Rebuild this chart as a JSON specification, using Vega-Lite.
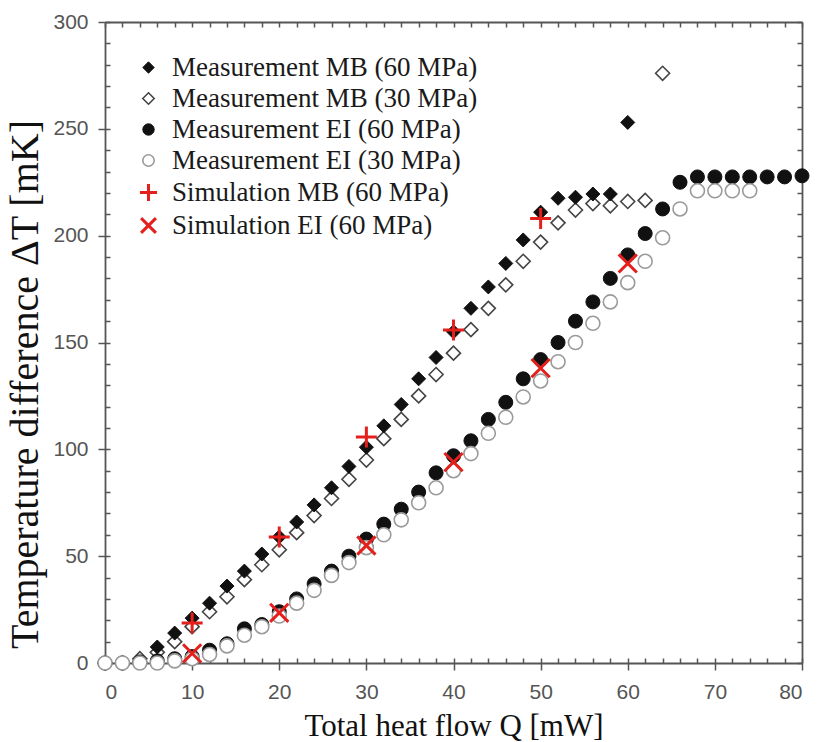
{
  "$schema": "https://vega.github.io/schema/vega-lite/v6.json",
  "width": 697,
  "height": 641,
  "autosize": {"type": "none"},
  "padding": {"left": 105, "top": 22, "right": 15, "bottom": 79},
  "background": "white",
  "config": {
    "view": {"stroke": null},
    "axis": {
      "domainColor": "#555",
      "domainWidth": 1.8,
      "tickColor": "#555",
      "tickWidth": 1.5,
      "grid": false,
      "labelFont": "Liberation Sans",
      "labelFontSize": 21,
      "labelColor": "#555",
      "titleFont": "Liberation Serif",
      "titleFontWeight": "normal",
      "titleColor": "#111"
    },
    "legend": {
      "labelFont": "Liberation Serif",
      "labelFontSize": 27,
      "labelColor": "#1a1a1a",
      "labelLimit": 500,
      "symbolSize": 130
    }
  },
  "data": {
    "values": [
      {"s": "Measurement MB (30 MPa)", "q": 0, "t": 0},
      {"s": "Measurement MB (30 MPa)", "q": 2, "t": 0},
      {"s": "Measurement MB (30 MPa)", "q": 4, "t": 2},
      {"s": "Measurement MB (30 MPa)", "q": 6, "t": 5},
      {"s": "Measurement MB (30 MPa)", "q": 8, "t": 10},
      {"s": "Measurement MB (30 MPa)", "q": 10, "t": 17},
      {"s": "Measurement MB (30 MPa)", "q": 12, "t": 24},
      {"s": "Measurement MB (30 MPa)", "q": 14, "t": 31},
      {"s": "Measurement MB (30 MPa)", "q": 16, "t": 39},
      {"s": "Measurement MB (30 MPa)", "q": 18, "t": 46},
      {"s": "Measurement MB (30 MPa)", "q": 20, "t": 53},
      {"s": "Measurement MB (30 MPa)", "q": 22, "t": 61},
      {"s": "Measurement MB (30 MPa)", "q": 24, "t": 69},
      {"s": "Measurement MB (30 MPa)", "q": 26, "t": 77},
      {"s": "Measurement MB (30 MPa)", "q": 28, "t": 86},
      {"s": "Measurement MB (30 MPa)", "q": 30, "t": 95},
      {"s": "Measurement MB (30 MPa)", "q": 32, "t": 105},
      {"s": "Measurement MB (30 MPa)", "q": 34, "t": 114},
      {"s": "Measurement MB (30 MPa)", "q": 36, "t": 125},
      {"s": "Measurement MB (30 MPa)", "q": 38, "t": 135},
      {"s": "Measurement MB (30 MPa)", "q": 40, "t": 145},
      {"s": "Measurement MB (30 MPa)", "q": 42, "t": 156},
      {"s": "Measurement MB (30 MPa)", "q": 44, "t": 166},
      {"s": "Measurement MB (30 MPa)", "q": 46, "t": 177},
      {"s": "Measurement MB (30 MPa)", "q": 48, "t": 188},
      {"s": "Measurement MB (30 MPa)", "q": 50, "t": 197},
      {"s": "Measurement MB (30 MPa)", "q": 52, "t": 206},
      {"s": "Measurement MB (30 MPa)", "q": 54, "t": 212},
      {"s": "Measurement MB (30 MPa)", "q": 56, "t": 215},
      {"s": "Measurement MB (30 MPa)", "q": 58, "t": 214},
      {"s": "Measurement MB (30 MPa)", "q": 60, "t": 216},
      {"s": "Measurement MB (30 MPa)", "q": 62, "t": 216.5},
      {"s": "Measurement MB (30 MPa)", "q": 64, "t": 276},
      {"s": "Measurement MB (60 MPa)", "q": 0, "t": 0},
      {"s": "Measurement MB (60 MPa)", "q": 2, "t": 0},
      {"s": "Measurement MB (60 MPa)", "q": 4, "t": 0.5},
      {"s": "Measurement MB (60 MPa)", "q": 6, "t": 7.5},
      {"s": "Measurement MB (60 MPa)", "q": 8, "t": 14},
      {"s": "Measurement MB (60 MPa)", "q": 10, "t": 21},
      {"s": "Measurement MB (60 MPa)", "q": 12, "t": 28},
      {"s": "Measurement MB (60 MPa)", "q": 14, "t": 36},
      {"s": "Measurement MB (60 MPa)", "q": 16, "t": 43},
      {"s": "Measurement MB (60 MPa)", "q": 18, "t": 51},
      {"s": "Measurement MB (60 MPa)", "q": 20, "t": 59},
      {"s": "Measurement MB (60 MPa)", "q": 22, "t": 66},
      {"s": "Measurement MB (60 MPa)", "q": 24, "t": 74},
      {"s": "Measurement MB (60 MPa)", "q": 26, "t": 82},
      {"s": "Measurement MB (60 MPa)", "q": 28, "t": 92},
      {"s": "Measurement MB (60 MPa)", "q": 30, "t": 101},
      {"s": "Measurement MB (60 MPa)", "q": 32, "t": 111},
      {"s": "Measurement MB (60 MPa)", "q": 34, "t": 121},
      {"s": "Measurement MB (60 MPa)", "q": 36, "t": 133},
      {"s": "Measurement MB (60 MPa)", "q": 38, "t": 143},
      {"s": "Measurement MB (60 MPa)", "q": 40, "t": 155},
      {"s": "Measurement MB (60 MPa)", "q": 42, "t": 166},
      {"s": "Measurement MB (60 MPa)", "q": 44, "t": 176},
      {"s": "Measurement MB (60 MPa)", "q": 46, "t": 187},
      {"s": "Measurement MB (60 MPa)", "q": 48, "t": 198},
      {"s": "Measurement MB (60 MPa)", "q": 50, "t": 211},
      {"s": "Measurement MB (60 MPa)", "q": 52, "t": 217.5},
      {"s": "Measurement MB (60 MPa)", "q": 54, "t": 218},
      {"s": "Measurement MB (60 MPa)", "q": 56, "t": 219.5},
      {"s": "Measurement MB (60 MPa)", "q": 58, "t": 219.5},
      {"s": "Measurement MB (60 MPa)", "q": 60, "t": 253},
      {"s": "Measurement EI (60 MPa)", "q": 0, "t": 0},
      {"s": "Measurement EI (60 MPa)", "q": 2, "t": 0},
      {"s": "Measurement EI (60 MPa)", "q": 4, "t": 0.5},
      {"s": "Measurement EI (60 MPa)", "q": 6, "t": 1},
      {"s": "Measurement EI (60 MPa)", "q": 8, "t": 2},
      {"s": "Measurement EI (60 MPa)", "q": 10, "t": 3},
      {"s": "Measurement EI (60 MPa)", "q": 12, "t": 6},
      {"s": "Measurement EI (60 MPa)", "q": 14, "t": 9},
      {"s": "Measurement EI (60 MPa)", "q": 16, "t": 16},
      {"s": "Measurement EI (60 MPa)", "q": 18, "t": 18},
      {"s": "Measurement EI (60 MPa)", "q": 20, "t": 24},
      {"s": "Measurement EI (60 MPa)", "q": 22, "t": 30},
      {"s": "Measurement EI (60 MPa)", "q": 24, "t": 37},
      {"s": "Measurement EI (60 MPa)", "q": 26, "t": 43},
      {"s": "Measurement EI (60 MPa)", "q": 28, "t": 50},
      {"s": "Measurement EI (60 MPa)", "q": 30, "t": 58},
      {"s": "Measurement EI (60 MPa)", "q": 32, "t": 65},
      {"s": "Measurement EI (60 MPa)", "q": 34, "t": 72},
      {"s": "Measurement EI (60 MPa)", "q": 36, "t": 80},
      {"s": "Measurement EI (60 MPa)", "q": 38, "t": 89},
      {"s": "Measurement EI (60 MPa)", "q": 40, "t": 97},
      {"s": "Measurement EI (60 MPa)", "q": 42, "t": 104},
      {"s": "Measurement EI (60 MPa)", "q": 44, "t": 114},
      {"s": "Measurement EI (60 MPa)", "q": 46, "t": 122},
      {"s": "Measurement EI (60 MPa)", "q": 48, "t": 133},
      {"s": "Measurement EI (60 MPa)", "q": 50, "t": 142},
      {"s": "Measurement EI (60 MPa)", "q": 52, "t": 150},
      {"s": "Measurement EI (60 MPa)", "q": 54, "t": 160},
      {"s": "Measurement EI (60 MPa)", "q": 56, "t": 169},
      {"s": "Measurement EI (60 MPa)", "q": 58, "t": 180},
      {"s": "Measurement EI (60 MPa)", "q": 60, "t": 191},
      {"s": "Measurement EI (60 MPa)", "q": 62, "t": 201},
      {"s": "Measurement EI (60 MPa)", "q": 64, "t": 212.5},
      {"s": "Measurement EI (60 MPa)", "q": 66, "t": 225},
      {"s": "Measurement EI (60 MPa)", "q": 68, "t": 227.5},
      {"s": "Measurement EI (60 MPa)", "q": 70, "t": 227.5},
      {"s": "Measurement EI (60 MPa)", "q": 72, "t": 227.5},
      {"s": "Measurement EI (60 MPa)", "q": 74, "t": 227.5},
      {"s": "Measurement EI (60 MPa)", "q": 76, "t": 227.5},
      {"s": "Measurement EI (60 MPa)", "q": 78, "t": 227.5},
      {"s": "Measurement EI (60 MPa)", "q": 80, "t": 228},
      {"s": "Measurement EI (30 MPa)", "q": 0, "t": 0},
      {"s": "Measurement EI (30 MPa)", "q": 2, "t": 0},
      {"s": "Measurement EI (30 MPa)", "q": 4, "t": 0},
      {"s": "Measurement EI (30 MPa)", "q": 6, "t": 0},
      {"s": "Measurement EI (30 MPa)", "q": 8, "t": 1},
      {"s": "Measurement EI (30 MPa)", "q": 10, "t": 2},
      {"s": "Measurement EI (30 MPa)", "q": 12, "t": 4},
      {"s": "Measurement EI (30 MPa)", "q": 14, "t": 8},
      {"s": "Measurement EI (30 MPa)", "q": 16, "t": 13},
      {"s": "Measurement EI (30 MPa)", "q": 18, "t": 17},
      {"s": "Measurement EI (30 MPa)", "q": 20, "t": 22},
      {"s": "Measurement EI (30 MPa)", "q": 22, "t": 28},
      {"s": "Measurement EI (30 MPa)", "q": 24, "t": 34},
      {"s": "Measurement EI (30 MPa)", "q": 26, "t": 41},
      {"s": "Measurement EI (30 MPa)", "q": 28, "t": 47},
      {"s": "Measurement EI (30 MPa)", "q": 30, "t": 54},
      {"s": "Measurement EI (30 MPa)", "q": 32, "t": 60},
      {"s": "Measurement EI (30 MPa)", "q": 34, "t": 67},
      {"s": "Measurement EI (30 MPa)", "q": 36, "t": 75},
      {"s": "Measurement EI (30 MPa)", "q": 38, "t": 82},
      {"s": "Measurement EI (30 MPa)", "q": 40, "t": 90},
      {"s": "Measurement EI (30 MPa)", "q": 42, "t": 98},
      {"s": "Measurement EI (30 MPa)", "q": 44, "t": 107.5},
      {"s": "Measurement EI (30 MPa)", "q": 46, "t": 115},
      {"s": "Measurement EI (30 MPa)", "q": 48, "t": 124.5},
      {"s": "Measurement EI (30 MPa)", "q": 50, "t": 132},
      {"s": "Measurement EI (30 MPa)", "q": 52, "t": 141},
      {"s": "Measurement EI (30 MPa)", "q": 54, "t": 150},
      {"s": "Measurement EI (30 MPa)", "q": 56, "t": 159},
      {"s": "Measurement EI (30 MPa)", "q": 58, "t": 169},
      {"s": "Measurement EI (30 MPa)", "q": 60, "t": 178},
      {"s": "Measurement EI (30 MPa)", "q": 62, "t": 188},
      {"s": "Measurement EI (30 MPa)", "q": 64, "t": 199},
      {"s": "Measurement EI (30 MPa)", "q": 66, "t": 212.5},
      {"s": "Measurement EI (30 MPa)", "q": 68, "t": 221},
      {"s": "Measurement EI (30 MPa)", "q": 70, "t": 221},
      {"s": "Measurement EI (30 MPa)", "q": 72, "t": 221},
      {"s": "Measurement EI (30 MPa)", "q": 74, "t": 221},
      {"s": "Simulation MB (60 MPa)", "q": 10, "t": 18.7},
      {"s": "Simulation MB (60 MPa)", "q": 20, "t": 59},
      {"s": "Simulation MB (60 MPa)", "q": 30, "t": 105.8},
      {"s": "Simulation MB (60 MPa)", "q": 40, "t": 155.8},
      {"s": "Simulation MB (60 MPa)", "q": 50, "t": 208},
      {"s": "Simulation EI (60 MPa)", "q": 10, "t": 4.5},
      {"s": "Simulation EI (60 MPa)", "q": 20, "t": 23.5},
      {"s": "Simulation EI (60 MPa)", "q": 30, "t": 55},
      {"s": "Simulation EI (60 MPa)", "q": 40, "t": 94},
      {"s": "Simulation EI (60 MPa)", "q": 50, "t": 138},
      {"s": "Simulation EI (60 MPa)", "q": 60, "t": 187}
    ]
  },
  "resolve": {"axis": {"x": "independent", "y": "independent"}},
  "layer": [
    {
      "mark": {"type": "point", "filled": false, "opacity": 1, "size": 196},
      "encoding": {
        "x": {
          "field": "q", "type": "quantitative",
          "scale": {"domain": [0, 80], "nice": false},
          "axis": {
            "orient": "bottom",
            "values": [0, 10, 20, 30, 40, 50, 60, 70, 80],
            "tickSize": 7,
            "labelPadding": 11,
            "title": "Total heat flow Q [mW]",
            "titleFontSize": 31,
            "titleBaseline": "alphabetic",
            "titleY": 72
          }
        },
        "y": {
          "field": "t", "type": "quantitative",
          "scale": {"domain": [0, 300], "nice": false},
          "axis": {
            "orient": "left",
            "values": [0, 50, 100, 150, 200, 250, 300],
            "tickSize": 7,
            "labelPadding": 10,
            "title": "Temperature difference ΔT [mK]",
            "titleFontSize": 40,
            "titleBaseline": "bottom",
            "titleX": -60,
            "titleY": 362
          }
        },
        "shape": {
          "field": "s", "type": "nominal",
          "scale": {
            "domain": ["Measurement MB (60 MPa)", "Measurement MB (30 MPa)", "Measurement EI (60 MPa)", "Measurement EI (30 MPa)", "Simulation MB (60 MPa)", "Simulation EI (60 MPa)"],
            "range": ["diamond", "diamond", "circle", "circle", "M-1.5,0L1.5,0M0,-1.5L0,1.5", "M-1.3,-1.3L1.3,1.3M-1.3,1.3L1.3,-1.3"]
          },
          "legend": {
            "title": null,
            "orient": "none",
            "legendX": 30,
            "legendY": 32,
            "padding": 0,
            "rowPadding": 3,
            "labelOffset": 10,
            "symbolOffset": 0
          }
        },
        "fill": {
          "field": "s", "type": "nominal",
          "scale": {
            "domain": ["Measurement MB (60 MPa)", "Measurement MB (30 MPa)", "Measurement EI (60 MPa)", "Measurement EI (30 MPa)", "Simulation MB (60 MPa)", "Simulation EI (60 MPa)"],
            "range": ["#111111", "#ffffff", "#111111", "#ffffff", "transparent", "transparent"]
          }
        },
        "stroke": {
          "field": "s", "type": "nominal",
          "scale": {
            "domain": ["Measurement MB (60 MPa)", "Measurement MB (30 MPa)", "Measurement EI (60 MPa)", "Measurement EI (30 MPa)", "Simulation MB (60 MPa)", "Simulation EI (60 MPa)"],
            "range": ["#111111", "#444444", "#111111", "#9a9a9a", "#e3201c", "#e3201c"]
          }
        },
        "strokeWidth": {
          "field": "s", "type": "nominal",
          "scale": {
            "type": "ordinal",
            "domain": ["Measurement MB (60 MPa)", "Measurement MB (30 MPa)", "Measurement EI (60 MPa)", "Measurement EI (30 MPa)", "Simulation MB (60 MPa)", "Simulation EI (60 MPa)"],
            "range": [1, 1.6, 1, 1.6, 3, 3]
          }
        }
      }
    },
    {
      "mark": {"type": "point", "opacity": 0},
      "encoding": {
        "x": {
          "field": "q", "type": "quantitative",
          "axis": {
            "orient": "bottom",
            "values": [0, 2, 4, 6, 8, 10, 12, 14, 16, 18, 20, 22, 24, 26, 28, 30, 32, 34, 36, 38, 40, 42, 44, 46, 48, 50, 52, 54, 56, 58, 60, 62, 64, 66, 68, 70, 72, 74, 76, 78, 80],
            "tickSize": -5,
            "labels": false,
            "domain": false,
            "title": null
          }
        },
        "y": {
          "field": "t", "type": "quantitative",
          "axis": {
            "orient": "left",
            "values": [0, 10, 20, 30, 40, 50, 60, 70, 80, 90, 100, 110, 120, 130, 140, 150, 160, 170, 180, 190, 200, 210, 220, 230, 240, 250, 260, 270, 280, 290, 300],
            "tickSize": -5,
            "labels": false,
            "domain": false,
            "title": null
          }
        }
      }
    },
    {
      "mark": {"type": "point", "opacity": 0},
      "encoding": {
        "x": {
          "field": "q", "type": "quantitative",
          "axis": {
            "orient": "top",
            "values": [0, 2, 4, 6, 8, 10, 12, 14, 16, 18, 20, 22, 24, 26, 28, 30, 32, 34, 36, 38, 40, 42, 44, 46, 48, 50, 52, 54, 56, 58, 60, 62, 64, 66, 68, 70, 72, 74, 76, 78, 80],
            "tickSize": -5,
            "labels": false,
            "title": null
          }
        },
        "y": {
          "field": "t", "type": "quantitative",
          "axis": {
            "orient": "right",
            "values": [0, 10, 20, 30, 40, 50, 60, 70, 80, 90, 100, 110, 120, 130, 140, 150, 160, 170, 180, 190, 200, 210, 220, 230, 240, 250, 260, 270, 280, 290, 300],
            "tickSize": -5,
            "labels": false,
            "title": null
          }
        }
      }
    }
  ]
}
